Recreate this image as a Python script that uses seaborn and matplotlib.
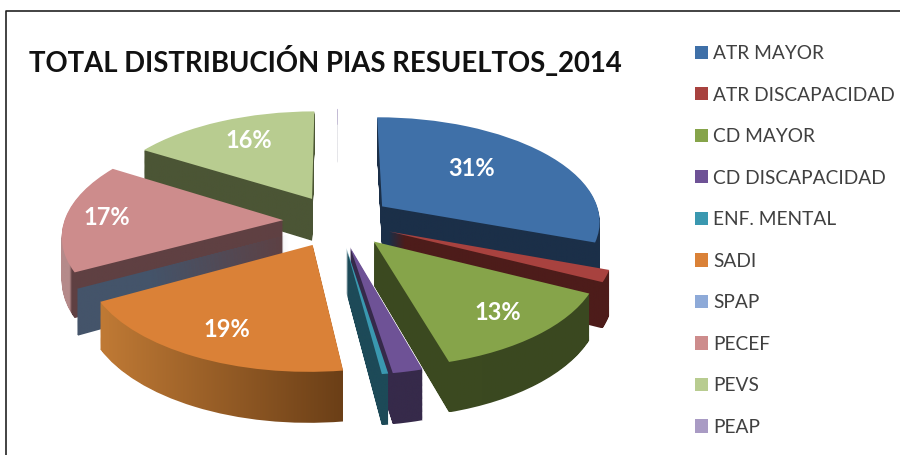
import numpy as np
import seaborn as sns
import matplotlib
matplotlib.use('Agg')
import matplotlib.pyplot as plt
from matplotlib.colors import LinearSegmentedColormap
from matplotlib.path import Path
from matplotlib.transforms import Transform

categories = ['ATR MAYOR', 'ATR DISCAPACIDAD', 'CD MAYOR', 'CD DISCAPACIDAD', 'ENF. MENTAL',
              'SADI', 'SPAP', 'PECEF', 'PEVS', 'PEAP']
values = [30.8, 1.8, 13.3, 1.9, 0.4, 19.2, 0.2, 16.8, 16.2, 0.05]

top_colors = ['#3f70a8', '#a8423f', '#86a44a', '#6e5296', '#3a98b0',
              '#da8137', '#8eaad8', '#cd8c8c', '#b8cc90', '#a99bc4']
# side walls, left to right as (position, colour)
wall_colors = [
    [(0, '#1b2f48'), (1, '#1b2f48')],
    [(0, '#4d1c1a'), (1, '#4d1c1a')],
    [(0, '#3c4a20'), (1, '#3a4820')],
    [(0, '#362a4a'), (1, '#362a4a')],
    [(0, '#1d4a58'), (1, '#1d4a58')],
    [(0, '#c07a35'), (1, '#6b3f17')],
    [(0, '#44546a'), (1, '#44546a')],
    [(0, '#b58a8a'), (0.05, '#b58a8a'), (0.06, '#5f4042'), (1, '#5f4042')],
    [(0, '#4b5535'), (1, '#4b5535')],
    [(0, '#e6e6ea'), (1, '#e6e6ea')],
]
# back to front
draw_order = [9, 8, 0, 7, 1, 6, 2, 5, 3, 4]

# where the % text sits in each big slice: distance from the apex, turn from the middle
label_place = {0: (0.60, 7), 2: (0.78, 0), 5: (0.77, 1), 7: (0.81, 0), 8: (0.72, -2)}

CX, CY = 338, 221
KX, KY = 219, 104
TILT = 0.128
DEPTH = 43


class Persp(Transform):
    input_dims = 2
    output_dims = 2

    def __init__(self, d=0):
        super().__init__()
        self.d = d

    def transform_non_affine(self, xy):
        xy = np.asarray(xy, dtype=float)
        w = 1 + TILT * xy[:, 1]
        return np.column_stack([CX + KX * xy[:, 0] / w, CY + (self.d - KY * xy[:, 1]) / w])


sns.set_theme(style='white')
plt.rcParams['font.family'] = ['Lato', 'DejaVu Sans']

fig = plt.figure(figsize=(9, 4.55), dpi=100)
ax = fig.add_axes([0, 0, 1, 1])

palette = sns.color_palette(top_colors)
wedges, _, autotexts = ax.pie(values, colors=palette, startangle=90, counterclock=False,
                              explode=[0.25] * len(values), radius=1,
                              autopct=lambda p: f'{p:.0f}%' if p > 5 else '', pctdistance=0.7,
                              wedgeprops={'linewidth': 0},
                              textprops={'color': 'white', 'fontweight': 'bold', 'fontsize': 17})

persp = Persp()
wedges[9].set_width(0.2)
for rank, i in enumerate(draw_order):
    w = wedges[i]
    w.set_transform(persp + ax.transData)
    w.set_zorder(2 * rank + 3)
    # side wall is the top face swept down
    layers = [Persp(d).transform_path(w.get_path()) for d in np.arange(1, DEPTH + 1)]
    swept = Path.make_compound_path(*layers)
    x0, y0 = swept.vertices.min(axis=0)
    x1, y1 = swept.vertices.max(axis=0)
    grad = np.linspace(0, 1, 256).reshape(1, -1)
    cmap = LinearSegmentedColormap.from_list(f'wall{i}', wall_colors[i])
    im = ax.imshow(grad, extent=(x0, x1, y1, y0), aspect='auto', cmap=cmap, zorder=2 * rank + 2)
    im.set_clip_path(swept, ax.transData)

for i, t in enumerate(autotexts):
    t.set_transform(persp + ax.transData)
    t.set_zorder(50)
    if i in label_place:
        r, turn = label_place[i]
        a = np.radians((wedges[i].theta1 + wedges[i].theta2) / 2 + turn)
        t.set_position((wedges[i].center[0] + r * np.cos(a), wedges[i].center[1] + r * np.sin(a)))

ax.set_aspect('auto')
ax.set_xlim(0, 900)
ax.set_ylim(455, 0)
ax.set_xticks([])
ax.set_yticks([])
ax.set_frame_on(False)

# frame of the picture
ax.plot([6, 6, 900], [455, 11, 11], color='#222222', lw=1.2, zorder=60)

ax.text(29, 61, 'TOTAL DISTRIBUCIÓN PIAS RESUELTOS_2014', fontsize=19.8, fontweight='bold',
        color='#111111', ha='left', va='center')

ax.legend(wedges, categories, loc='upper left', bbox_to_anchor=(695 / 900, 1 - 45 / 455),
          frameon=False, fontsize=13.8, labelcolor='#404040', borderpad=0, borderaxespad=0,
          handlelength=0.68, handleheight=0.68, handletextpad=0.28, labelspacing=1.28)

# SPAP shows only its wall in the picture, the legend keeps the light blue
wedges[6].set_visible(False)

fig.savefig('out.png', dpi=100)
